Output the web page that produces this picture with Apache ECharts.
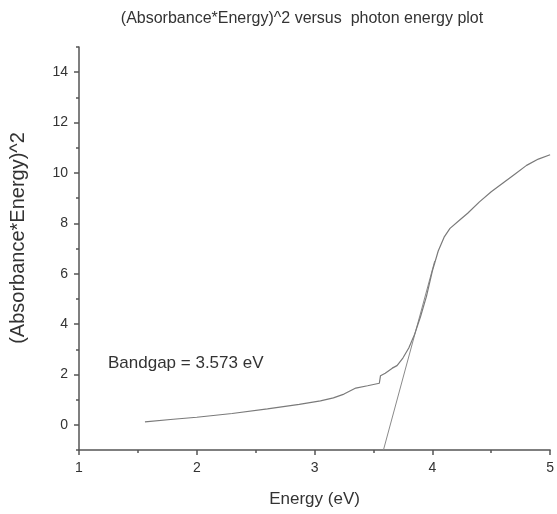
<!DOCTYPE html>
<html><head><meta charset="utf-8">
<script src="https://cdn.jsdelivr.net/npm/echarts@6/dist/echarts.min.js"></script>
<style>html,body{margin:0;padding:0;background:#fff}#c{width:557px;height:514px}</style>
</head><body><div id="c"></div>
<script>
var titleText = "(Absorbance*Energy)^2 versus  photon energy plot";
var xName = "Energy (eV)";
var yName = "(Absorbance*Energy)^2";
var noteText = "Bandgap = 3.573 eV";
var xTicks = [1, 2, 3, 4, 5];
var yTicks = [0, 2, 4, 6, 8, 10, 12, 14];
var yMinor = [-1, 1, 3, 5, 7, 9, 11, 13, 15];
var energy = [1.56, 1.8, 2.0, 2.3, 2.6, 2.87, 3.05, 3.16, 3.25, 3.35, 3.45, 3.55, 3.56, 3.6, 3.66, 3.7, 3.75, 3.8, 3.85, 3.9, 3.95, 4.0, 4.05, 4.1, 4.15, 4.23, 4.3, 4.4, 4.5, 4.6, 4.7, 4.8, 4.9, 5.0];
var absE2 = [0.12, 0.22, 0.30, 0.45, 0.63, 0.81, 0.95, 1.07, 1.22, 1.46, 1.55, 1.65, 1.95, 2.05, 2.25, 2.35, 2.65, 3.05, 3.6, 4.3, 5.1, 6.1, 6.9, 7.45, 7.8, 8.12, 8.4, 8.85, 9.25, 9.6, 9.95, 10.3, 10.55, 10.72];
var tangentE = [3.585, 4.02];
var tangentV = [-1, 6.5];

var font = "Liberation Sans, Arial, sans-serif";
var chart = echarts.init(document.getElementById('c'), null, {renderer: 'canvas'});
function pairs(a, b) { return a.map(function (v, i) { return [v, b[i]]; }); }
chart.setOption({
  animation: false,
  backgroundColor: '#fff',
  title: {
    text: titleText, left: 297, top: 6, textAlign: 'center',
    textStyle: {fontFamily: font, fontSize: 16, fontWeight: 'normal', color: '#333'}
  },
  graphic: [{
    type: 'text', left: 108, top: 355,
    style: {text: noteText, fontFamily: font, fontSize: 17, fill: '#333'}
  }, {
    type: 'text', x: 18, y: 238, rotation: Math.PI / 2,
    style: {text: yName, fontFamily: font, fontSize: 20, fill: '#333', align: 'center', verticalAlign: 'middle'}
  }],
  grid: {left: 79, right: 6, top: 47, bottom: 64, containLabel: false},
  xAxis: {
    type: 'value', min: 1, max: 5, interval: 1,
    name: xName, nameLocation: 'middle', nameGap: 41,
    nameTextStyle: {fontFamily: font, fontSize: 17, color: '#333'},
    axisLine: {show: true, onZero: false, lineStyle: {color: '#555', width: 1.5}},
    axisTick: {show: true, length: 5, lineStyle: {color: '#555', width: 1.5}},
    minorTick: {show: true, splitNumber: 2, length: 3, lineStyle: {color: '#555', width: 1.5}},
    axisLabel: {customValues: xTicks, margin: 11, fontFamily: font, fontSize: 14, color: '#333'},
    splitLine: {show: false}
  },
  yAxis: [{
    type: 'value', min: -1, max: 15,
    axisLine: {show: true, onZero: false, lineStyle: {color: '#555', width: 1.5}},
    axisTick: {show: true, customValues: yTicks, length: 5, lineStyle: {color: '#555', width: 1.5}},
    axisLabel: {customValues: yTicks, margin: 11, fontFamily: font, fontSize: 14, color: '#333'},
    splitLine: {show: false}
  }, {
    type: 'value', min: -1, max: 15, position: 'left',
    axisLine: {show: false, onZero: false},
    axisTick: {show: true, customValues: yMinor, length: 3, lineStyle: {color: '#555', width: 1.5}},
    axisLabel: {show: false},
    splitLine: {show: false}
  }],
  series: [{
    type: 'line', data: pairs(energy, absE2), showSymbol: false, symbol: 'none',
    lineStyle: {color: '#7a7a7a', width: 1.2}, z: 3
  }, {
    type: 'line', data: pairs(tangentE, tangentV), showSymbol: false, symbol: 'none',
    lineStyle: {color: '#8a8a8a', width: 1}, z: 2
  }]
});
</script></body></html>
